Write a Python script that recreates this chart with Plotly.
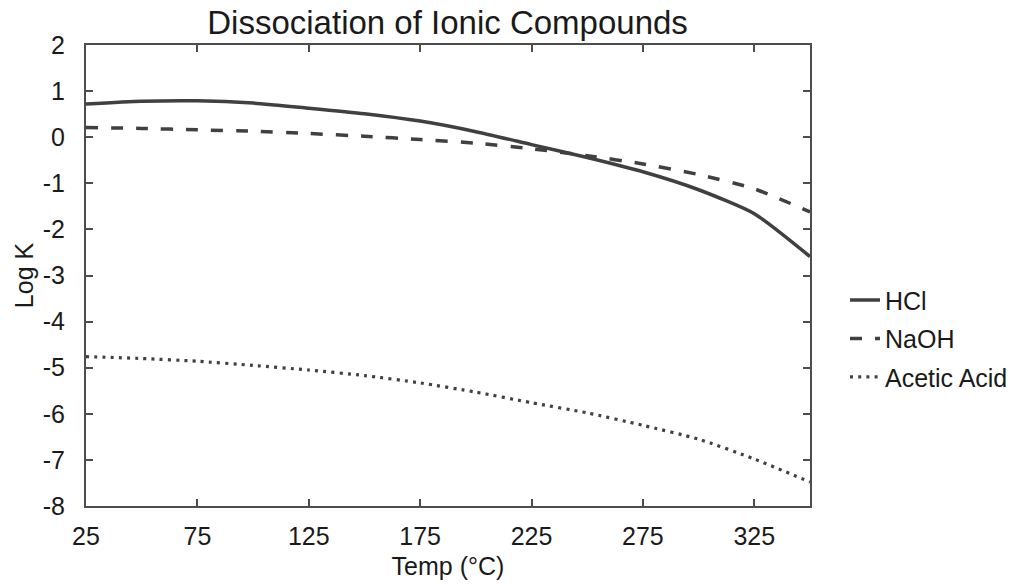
import plotly.graph_objects as go

temps = [25, 50, 75, 100, 125, 150, 175, 200, 225, 250, 275, 300, 325, 350]
hcl = [0.72, 0.78, 0.79, 0.74, 0.63, 0.51, 0.35, 0.12, -0.16, -0.44, -0.75, -1.14, -1.66, -2.59]
naoh = [0.21, 0.19, 0.16, 0.13, 0.08, 0.02, -0.05, -0.13, -0.25, -0.40, -0.58, -0.81, -1.12, -1.62]
acetic = [-4.76, -4.80, -4.86, -4.95, -5.05, -5.17, -5.33, -5.53, -5.76, -5.98, -6.25, -6.55, -6.98, -7.48]

x_ticks = [25, 75, 125, 175, 225, 275, 325]
y_ticks = list(range(-8, 3))
y_ticktext = [str(v) for v in y_ticks]

LINE = "#404040"
TXT = "#1a1a1a"
FONT = "Liberation Sans, Arial, sans-serif"

fig = go.Figure()
fig.add_trace(go.Scatter(x=temps, y=hcl, name="HCl", mode="lines", legendgroup="a",
                         line=dict(color=LINE, width=3.5, shape="spline", smoothing=0.6)))
fig.add_trace(go.Scatter(x=temps, y=naoh, name="NaOH", mode="lines", legendgroup="b",
                         line=dict(color=LINE, width=3.5, dash="12px,13px", shape="spline", smoothing=0.6)))
fig.add_trace(go.Scatter(x=temps, y=acetic, name="Acetic Acid", mode="lines", legendgroup="c",
                         line=dict(color=LINE, width=3.2, dash="3px,5.2px", shape="spline", smoothing=0.6)))

axis_common = dict(showline=True, linecolor="#4d4d4d", linewidth=2, mirror="ticks",
                   ticks="inside", ticklen=7, tickwidth=1.5, tickcolor="#4d4d4d",
                   showgrid=False, zeroline=False, automargin=False,
                   tickfont=dict(family=FONT, size=25, color=TXT))

fig.update_xaxes(range=[25, 350], tickvals=x_ticks, ticklabelstandoff=7,
                 title=dict(text="Temp (°C)", font=dict(family=FONT, size=25, color=TXT), standoff=8),
                 **axis_common)
fig.update_yaxes(range=[-8, 2], tickvals=y_ticks, ticktext=y_ticktext, ticklabelstandoff=14,
                 title=dict(text="Log K", font=dict(family=FONT, size=25, color=TXT), standoff=2),
                 **axis_common)

fig.update_layout(
    width=1023, height=584,
    margin=dict(l=86, r=213, t=45, b=78),
    paper_bgcolor="white", plot_bgcolor="white",
    title=dict(text="Dissociation of Ionic Compounds", x=0.4375, xanchor="center",
               y=0.962, yanchor="middle",
               font=dict(family=FONT, size=33, color=TXT)),
    legend=dict(xref="container", yref="container", x=0.826, xanchor="left",
                y=0.42, yanchor="middle",
                font=dict(family=FONT, size=25, color=TXT),
                tracegroupgap=3, itemwidth=30, bgcolor="rgba(0,0,0,0)"),
    showlegend=True,
)

fig.write_html("out.html")
